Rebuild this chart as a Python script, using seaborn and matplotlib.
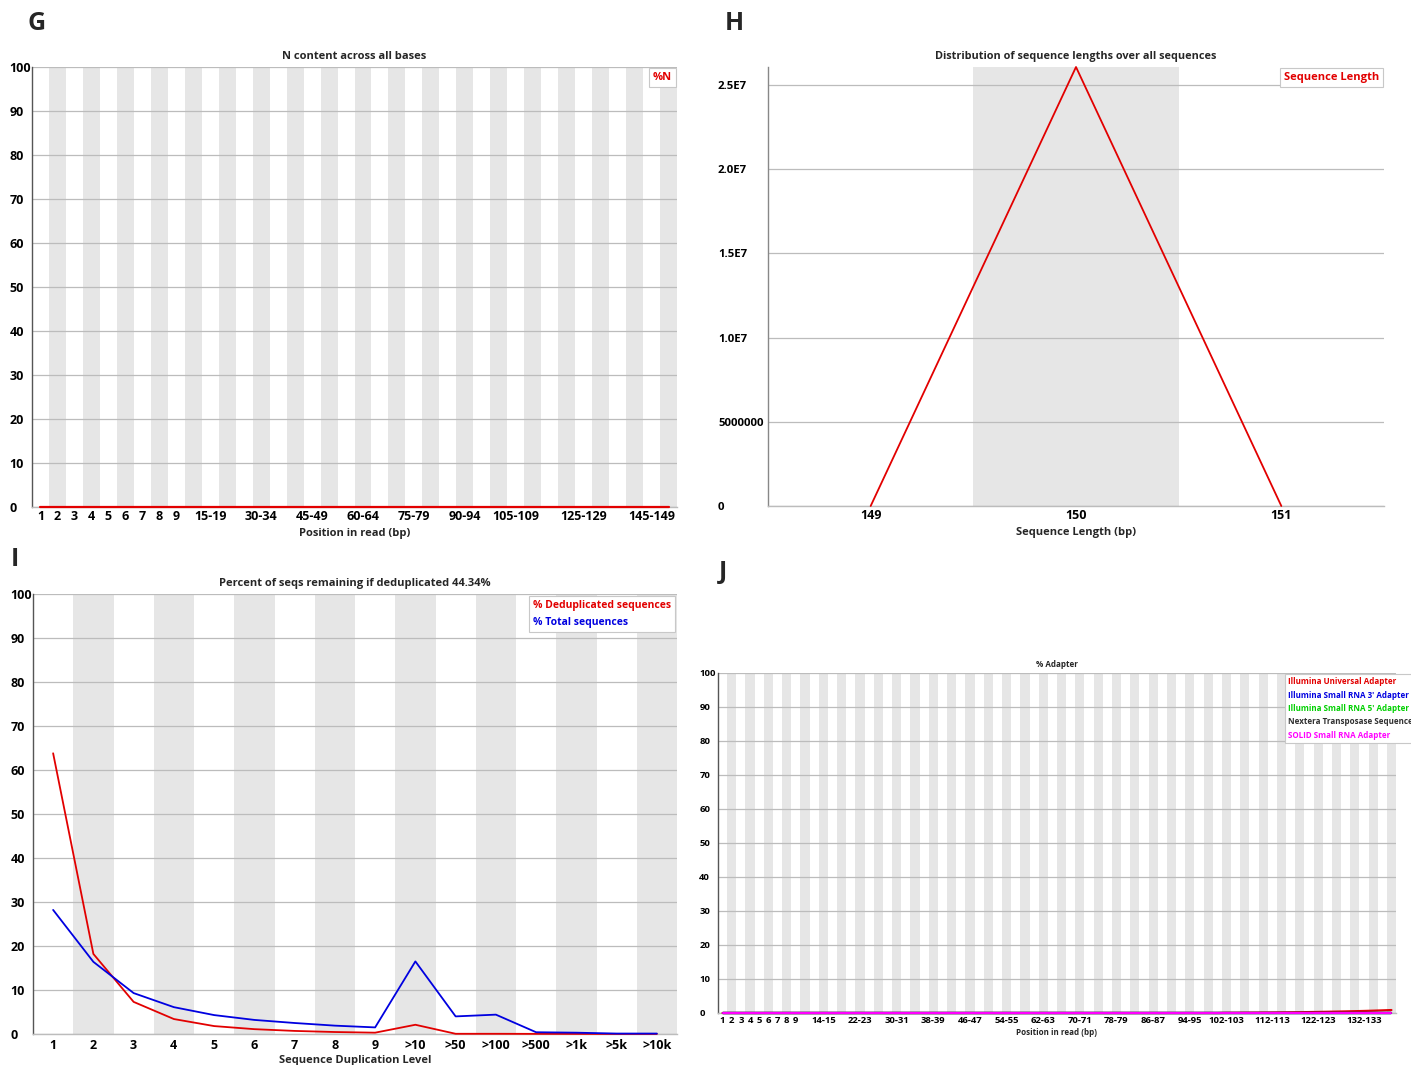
import matplotlib
matplotlib.use("Agg")
import matplotlib.pyplot as plt
import pandas as pd
import seaborn as sns
from matplotlib.lines import Line2D

# ---------------------------------------------------------------- data
# G: per-base N content
g_categories = [str(i) for i in range(1, 10)] + [f"{s}-{s + 4}" for s in range(10, 150, 5)] + ["150-151"]
g_n_percent = [0.0] * len(g_categories)
g_tick_labels = ["1", "2", "3", "4", "5", "6", "7", "8", "9", "15-19", "30-34", "45-49",
                 "60-64", "75-79", "90-94", "105-109", "125-129", "145-149"]

# H: sequence length distribution
h_lengths = ["149", "150", "151"]
h_counts = [0, 26070000, 0]
h_ticks = [0, 5000000, 10000000, 15000000, 20000000, 25000000]
h_tick_labels = ["0", "5000000", "1.0E7", "1.5E7", "2.0E7", "2.5E7"]

# I: sequence duplication levels
i_levels = ["1", "2", "3", "4", "5", "6", "7", "8", "9", ">10", ">50", ">100", ">500", ">1k", ">5k", ">10k"]
i_dedup = [63.8, 18.2, 7.3, 3.4, 1.8, 1.1, 0.7, 0.45, 0.3, 2.1, 0.05, 0.05, 0.03, 0.02, 0.01, 0.01]
i_total = [28.2, 16.4, 9.3, 6.1, 4.3, 3.2, 2.5, 1.9, 1.5, 16.5, 4.0, 4.4, 0.4, 0.3, 0.1, 0.1]

# J: adapter content
j_positions = [str(i) for i in range(1, 10)] + [f"{s}-{s + 1}" for s in range(10, 140, 2)]
j_tick_labels = ["1", "2", "3", "4", "5", "6", "7", "8", "9", "14-15", "22-23", "30-31", "38-39",
                 "46-47", "54-55", "62-63", "70-71", "78-79", "86-87", "94-95", "102-103",
                 "112-113", "122-123", "132-133"]
j_universal = [0.0] * 55 + [0.05, 0.06, 0.08, 0.10, 0.12, 0.14, 0.17, 0.20, 0.23, 0.27,
                            0.31, 0.36, 0.41, 0.47, 0.53, 0.60, 0.68, 0.77, 0.87]
j_small3 = [0.0] * len(j_positions)
j_small5 = [0.0] * len(j_positions)
j_nextera = [0.0] * len(j_positions)
j_solid = [0.0] * len(j_positions)
j_series = ["Illumina Universal Adapter", "Illumina Small RNA 3' Adapter",
            "Illumina Small RNA 5' Adapter", "Nextera Transposase Sequence",
            "SOLID Small RNA Adapter"]

# ---------------------------------------------------------------- style
RED = "#e20000"
BLUE = "#0000e0"
GREEN = "#00d000"
GREY_TXT = "#303030"
MAGENTA = "#ff00ff"
STRIPE = "#e6e6e6"
GRID = "#bcbcbc"

sns.set_theme(style="white")
plt.rcParams["font.family"] = ["Open Sans", "DejaVu Sans"]
plt.rcParams["font.weight"] = "bold"
plt.rcParams["axes.titleweight"] = "bold"
plt.rcParams["axes.labelweight"] = "bold"

W, H = 1411, 1065
fig = plt.figure(figsize=(W / 100, H / 100), dpi=100)
fig.patch.set_facecolor("white")


def add_axes(x0, y0, x1, y1):
    return fig.add_axes([x0 / W, 1 - y1 / H, (x1 - x0) / W, (y1 - y0) / H])


def base_style(ax, n, fs, ypad, left_spine="#555555", stripes=True):
    ax.set_facecolor("white")
    if stripes:
        for k in range(1, n, 2):
            ax.axvspan(k - 0.5, k + 0.5, color=STRIPE, lw=0, zorder=0.1)
    ax.set_xlim(-0.5, n - 0.5)
    for side in ("top", "right"):
        ax.spines[side].set_visible(False)
    ax.spines["left"].set_color(left_spine)
    ax.spines["left"].set_linewidth(1.0)
    ax.spines["bottom"].set_color(GRID)
    ax.spines["bottom"].set_linewidth(1.0)
    ax.set_axisbelow(True)
    ax.yaxis.grid(True, color=GRID, lw=0.9)
    ax.xaxis.grid(False)
    ax.tick_params(axis="both", length=0, labelsize=fs, colors="black")
    ax.tick_params(axis="y", pad=ypad)
    for lab in ax.get_yticklabels():
        lab.set_horizontalalignment("left")


def text_legend(ax, labels, colors, fs, spacing=0.25, **kw):
    handles = [Line2D([], [], color=c) for c in colors]
    leg = ax.legend(handles, labels, handlelength=0, handletextpad=0, frameon=True,
                    fancybox=False, framealpha=1, edgecolor="#c8c8c8",
                    borderpad=0.35, labelspacing=spacing, prop={"size": fs, "weight": "bold"}, **kw)
    leg.get_frame().set_linewidth(0.8)
    for t, c in zip(leg.get_texts(), colors):
        t.set_color(c)
    for h in leg.legend_handles:
        h.set_visible(False)
    leg.set_zorder(10)
    return leg


FS = 8.0      # titles, axis labels, legends
FT = 9.0      # tick labels

# ---------------------------------------------------------------- G
axg = add_axes(32, 67, 677, 507)
dg = pd.DataFrame({"pos": range(len(g_categories)), "pct": g_n_percent})
sns.lineplot(data=dg, x="pos", y="pct", color=RED, lw=1.6, ax=axg, clip_on=False, zorder=5)
axg.set_ylim(0, 100)
axg.set_yticks(range(0, 101, 10))
axg.set_xticks([g_categories.index(l) for l in g_tick_labels])
axg.set_xticklabels(g_tick_labels)
base_style(axg, len(g_categories), FT, 16)
axg.tick_params(axis="x", pad=2.5)
axg.set_title("N content across all bases", fontsize=FS, pad=6)
axg.set_xlabel("Position in read (bp)", fontsize=FS, labelpad=3)
axg.set_ylabel("")
text_legend(axg, ["%N"], [RED], FS, loc="upper right", borderaxespad=0.1)

# ---------------------------------------------------------------- H
axh = add_axes(768, 67, 1384, 506)
dh = pd.DataFrame({"pos": range(len(h_lengths)), "count": h_counts})
sns.lineplot(data=dh, x="pos", y="count", color=RED, lw=1.3, ax=axh, clip_on=False, zorder=5)
axh.set_ylim(0, max(h_counts))
axh.set_yticks(h_ticks)
axh.set_yticklabels(h_tick_labels)
axh.set_xticks(range(len(h_lengths)))
axh.set_xticklabels(h_lengths)
base_style(axh, len(h_lengths), FT, 36, left_spine="#888888")
axh.tick_params(axis="y", labelsize=8.2)
axh.tick_params(axis="x", pad=2.5)
axh.set_title("Distribution of sequence lengths over all sequences", fontsize=7.8, pad=6)
axh.set_xlabel("Sequence Length (bp)", fontsize=FS, labelpad=3)
axh.set_ylabel("")
text_legend(axh, ["Sequence Length"], [RED], FS, loc="upper right", borderaxespad=0.1)

# ---------------------------------------------------------------- I
axi = add_axes(33, 594, 677, 1034)
di = pd.DataFrame({"pos": list(range(len(i_levels))) * 2,
                   "pct": i_dedup + i_total,
                   "series": ["% Deduplicated sequences"] * len(i_levels) + ["% Total sequences"] * len(i_levels)})
sns.lineplot(data=di, x="pos", y="pct", hue="series", palette=[RED, BLUE], lw=1.3,
             ax=axi, legend=False, clip_on=False, zorder=5)
axi.set_ylim(0, 100)
axi.set_yticks(range(0, 101, 10))
axi.set_xticks(range(len(i_levels)))
axi.set_xticklabels(i_levels)
base_style(axi, len(i_levels), FT, 16)
axi.tick_params(axis="x", pad=3.5)
axi.set_title("Percent of seqs remaining if deduplicated 44.34%", fontsize=FS, pad=6)
axi.set_xlabel("Sequence Duplication Level", fontsize=FS, labelpad=2.5)
axi.set_ylabel("")
text_legend(axi, ["% Deduplicated sequences", "% Total sequences"], [RED, BLUE], 7.5,
            spacing=0.6, loc="upper right", borderaxespad=0.2)

# ---------------------------------------------------------------- J
FSJ = 5.8
axj = add_axes(718, 673, 1396, 1013)
dj = pd.DataFrame({"pos": list(range(len(j_positions))) * 5,
                   "pct": j_universal + j_small3 + j_small5 + j_nextera + j_solid,
                   "series": sum([[s] * len(j_positions) for s in j_series], [])})
sns.lineplot(data=dj, x="pos", y="pct", hue="series", hue_order=j_series,
             palette=[RED, BLUE, GREEN, "black", MAGENTA], lw=1.6, ax=axj, legend=False,
             clip_on=False, zorder=5)
axj.set_ylim(0, 100)
axj.set_yticks(range(0, 101, 10))
axj.set_xticks([j_positions.index(l) for l in j_tick_labels])
axj.set_xticklabels(j_tick_labels)
base_style(axj, len(j_positions), 6.8, 13.5)
axj.tick_params(axis="x", pad=2)
axj.set_title("% Adapter", fontsize=FSJ, pad=4)
axj.set_xlabel("Position in read (bp)", fontsize=FSJ, labelpad=2)
axj.set_ylabel("")
text_legend(axj, j_series, [RED, BLUE, GREEN, GREY_TXT, MAGENTA], FSJ, spacing=0.55,
            loc="upper left", bbox_to_anchor=(0.836, 0.996), borderaxespad=0)

# ---------------------------------------------------------------- panel letters
for letter, x, y in [("G", 37, 23), ("H", 734, 23), ("I", 15, 560), ("J", 723, 572)]:
    fig.text(x / W, 1 - y / H, letter, fontsize=18, fontweight="bold", ha="center", va="center")

fig.savefig("out.png", dpi=100, facecolor="white")
